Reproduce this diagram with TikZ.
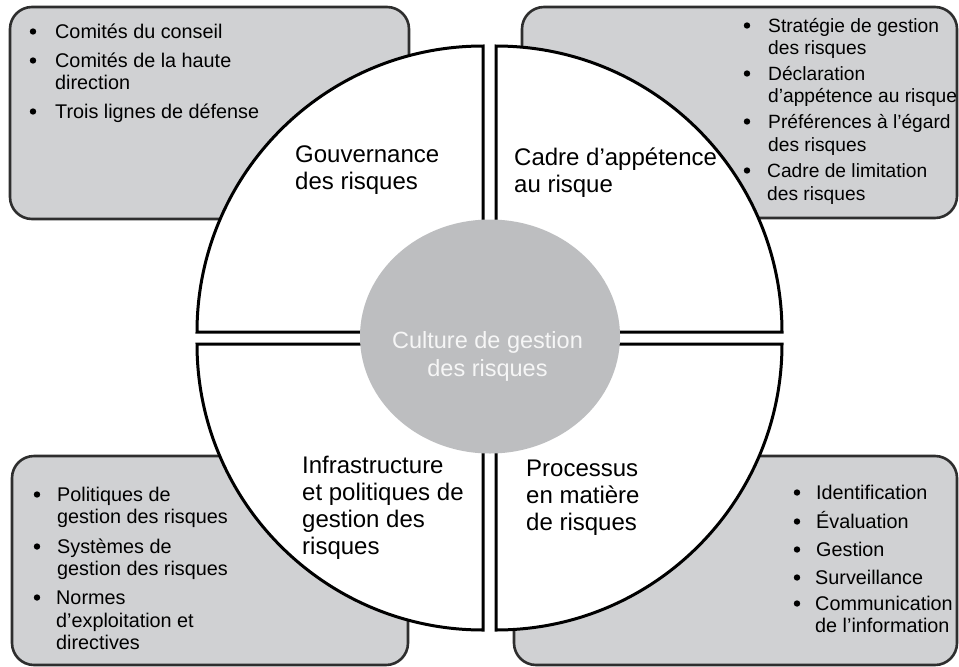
\documentclass[tikz,border=0pt]{standalone}
\usepackage{fontspec}
\setmainfont{Liberation Sans}
\definecolor{boxfill}{HTML}{D0D1D3}
\definecolor{boxline}{HTML}{2E2E2E}
\definecolor{corefill}{HTML}{BDBEC0}
\definecolor{coretext}{HTML}{F6F6F6}
\tikzset{
  infobox/.style={draw=boxline, fill=boxfill, line width=2.6pt, rounded corners=22pt},
  quad/.style={draw=black, fill=white, line width=3pt},
  itemtxt/.style={anchor=base west, inner sep=0pt, font=\fontsize{19.8}{22}\selectfont},
  tritem/.style={itemtxt, font=\fontsize{19.2}{22}\selectfont},
  bul/.style={circle, fill=black, inner sep=0pt, minimum size=6.4pt},
  qlabel/.style={anchor=base west, inner sep=0pt, font=\fontsize{24}{27}\selectfont},
  ctext/.style={anchor=base, inner sep=0pt, text=coretext, font=\fontsize{23.5}{28}\selectfont}
}
\begin{document}
\begin{tikzpicture}[x=1pt, y=-1pt]
\useasboundingbox (0,0) rectangle (959,667);
% info boxes
\draw[infobox] (10,7) rectangle (409,219);
\draw[infobox] (522,7) rectangle (957,218);
\draw[infobox] (12,456) rectangle (408,665);
\draw[infobox] (514,456) rectangle (957,665);
% quadrants
\draw[quad] (483,332) -- (197,332) arc[start angle=180, end angle=270, radius=286] -- cycle;
\draw[quad] (496,332) -- (496,46) arc[start angle=270, end angle=360, radius=286] -- cycle;
\draw[quad] (483,344) -- (197,344) arc[start angle=180, end angle=90, radius=286] -- cycle;
\draw[quad] (496,344) -- (782,344) arc[start angle=0, end angle=90, radius=286] -- cycle;
% core
\fill[corefill] (490,336.5) ellipse [x radius=130, y radius=117];
\node[ctext] (c1) at (487.5,348) {Culture de gestion};
\node[ctext] (c2) at (487.5,376) {des risques};
% quadrant labels
\node[qlabel] (g1) at (295,162) {Gouvernance};
\node[qlabel] (g2) at (295,189) {des risques};
\node[qlabel] (a1) at (514,165) {Cadre d’appétence};
\node[qlabel] (a2) at (514,192) {au risque};
\node[qlabel] (i1) at (302,473) {Infrastructure};
\node[qlabel] (i2) at (302,500) {et politiques de};
\node[qlabel] (i3) at (302,527) {gestion des};
\node[qlabel] (i4) at (302,554) {risques};
\node[qlabel] (p1) at (526,476) {Processus};
\node[qlabel] (p2) at (526,503) {en matière};
\node[qlabel] (p3) at (526,530) {de risques};
% top-left box
\node[bul] (tlb1) at (33,31.5) {};
\node[itemtxt] (tl1) at (55,38) {Comités du conseil};
\node[bul] (tlb2) at (33,60.5) {};
\node[itemtxt] (tl2) at (55,67) {Comités de la haute};
\node[itemtxt] (tl3) at (55,89) {direction};
\node[bul] (tlb3) at (33,111.5) {};
\node[itemtxt] (tl4) at (55,118) {Trois lignes de défense};
% top-right box
\node[bul] (trb1) at (747,25.5) {};
\node[tritem] (tr1) at (768,32) {Stratégie de gestion};
\node[tritem] (tr2) at (768,54) {des risques};
\node[bul] (trb2) at (747,73.5) {};
\node[tritem] (tr3) at (768,80) {Déclaration};
\node[tritem] (tr4) at (768,102) {d’appétence au risque};
\node[bul] (trb3) at (747,121.5) {};
\node[tritem] (tr5) at (768,128) {Préférences à l’égard};
\node[tritem] (tr6) at (768,151) {des risques};
\node[bul] (trb4) at (747,170.5) {};
\node[tritem] (tr7) at (767,177) {Cadre de limitation};
\node[tritem] (tr8) at (767,200) {des risques};
% bottom-left box
\node[bul] (blb1) at (37,494.5) {};
\node[itemtxt] (bl1) at (57,501) {Politiques de};
\node[itemtxt] (bl2) at (57,523) {gestion des risques};
\node[bul] (blb2) at (37,546.5) {};
\node[itemtxt] (bl3) at (57,553) {Systèmes de};
\node[itemtxt] (bl4) at (57,575) {gestion des risques};
\node[bul] (blb3) at (37,597.5) {};
\node[itemtxt] (bl5) at (56,604) {Normes};
\node[itemtxt] (bl6) at (56,627) {d’exploitation et};
\node[itemtxt] (bl7) at (56,649) {directives};
% bottom-right box
\node[bul] (brb1) at (797,492.5) {};
\node[itemtxt] (br1) at (816,499) {Identification};
\node[bul] (brb2) at (797,521.5) {};
\node[itemtxt] (br2) at (816,528) {Évaluation};
\node[bul] (brb3) at (797,549.5) {};
\node[itemtxt] (br3) at (816,556) {Gestion};
\node[bul] (brb4) at (797,577.5) {};
\node[itemtxt] (br4) at (815,584) {Surveillance};
\node[bul] (brb5) at (797,603.5) {};
\node[itemtxt] (br5) at (815,610) {Communication};
\node[itemtxt] (br6) at (815,632) {de l’information};
\end{tikzpicture}
\end{document}
